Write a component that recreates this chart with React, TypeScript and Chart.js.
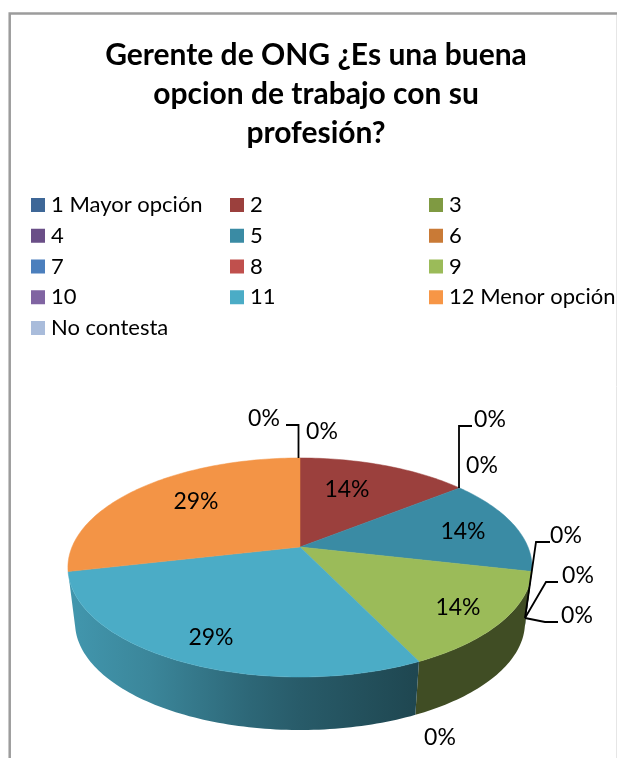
import React, { useEffect, useRef } from "react";
import { Chart, registerables } from "chart.js";

Chart.register(...registerables);

const titleLines = ["Gerente de ONG ¿Es una buena", "opcion de trabajo con su", "profesión?"];
const categories = ["1 Mayor opción", "2", "3", "4", "5", "6", "7", "8", "9", "10", "11", "12 Menor opción", "No contesta"];
const responses = [0, 1, 0, 0, 1, 0, 0, 0, 1, 0, 2, 2, 0];
const faceColors = ["#3E6797", "#9B403D", "#7F9A42", "#6A4E87", "#3A8BA4", "#C97A36", "#4B7FBD", "#C0504D", "#9BBB59", "#8064A2", "#4BACC6", "#F39446", "#A9BCDB"];

// Layout of the data labels, per category: label centre and optional leader line.
type LabelPlace = { at: [number, number]; leader?: [number, number][] };
const labelPlaces: LabelPlace[] = [
  { at: [322, 432] },
  { at: [347, 490] },
  { at: [482, 466] },
  { at: [490, 420], leader: [[459, 488], [459, 426], [472, 426]] },
  { at: [463, 532] },
  { at: [566, 536], leader: [[525, 618], [536, 542], [550, 542]] },
  { at: [578, 576], leader: [[525, 618], [546, 582], [558, 582]] },
  { at: [577, 616], leader: [[525, 618], [545, 622], [558, 622]] },
  { at: [458, 608] },
  { at: [440, 738] },
  { at: [211, 638] },
  { at: [196, 502] },
  { at: [264, 419], leader: [[298.5, 458], [298.5, 425], [286, 425]] },
];

// Perspective projection of the pie disc.
const CX = 300;
const TOP = { cy: 547, a: 228, b: 105.7 };
const BOTTOM = { cy: 602.6, a: 221, b: 103.6 };
const PERSPECTIVE = -0.187;
// Angular range (clockwise from 12 o'clock) in which the side wall faces the viewer.
const WALL_FROM = (101 * Math.PI) / 180;
const WALL_TO = (257.2 * Math.PI) / 180;
const project = (disc: typeof TOP, theta: number): [number, number] => {
  const u = Math.sin(theta);
  const v = -Math.cos(theta);
  const w = 1 + PERSPECTIVE * v;
  return [CX + (disc.a * u) / w, disc.cy + (disc.b * v) / w];
};
const rimPoints = (disc: typeof TOP, from: number, to: number) => {
  const n = Math.max(2, Math.ceil((to - from) / 0.02));
  const pts: [number, number][] = [];
  for (let i = 0; i <= n; i++) pts.push(project(disc, from + ((to - from) * i) / n));
  return pts;
};
const wallShade: [number, number][] = [[68, 0.88], [150, 0.78], [250, 0.6], [300, 0.53], [415, 0.41], [532, 0.41]];
const shadeColor = (hex: string, k: number) => {
  const n = parseInt(hex.slice(1), 16);
  return `rgb(${Math.round(((n >> 16) & 255) * k)},${Math.round(((n >> 8) & 255) * k)},${Math.round((n & 255) * k)})`;
};

const pie3d = {
  id: "pie3d",
  beforeDatasetsDraw(chart: any) {
    const ctx = chart.ctx as CanvasRenderingContext2D;
    const arcs = chart.getDatasetMeta(0).data as any[];
    const colors = chart.data.datasets[0].backgroundColor as string[];
    const slices = arcs
      .map((arc, i) => ({ i, from: arc.startAngle + Math.PI / 2, to: arc.endAngle + Math.PI / 2 }))
      .filter((s) => s.to - s.from > 1e-6);

    ctx.save();
    for (const s of slices) {
      const from = Math.max(s.from, WALL_FROM);
      const to = Math.min(s.to, WALL_TO);
      if (to <= from) continue;
      const top = rimPoints(TOP, from, to);
      const bot = rimPoints(BOTTOM, from, to).reverse();
      const grad = ctx.createLinearGradient(wallShade[0][0], 0, wallShade[wallShade.length - 1][0], 0);
      const span = wallShade[wallShade.length - 1][0] - wallShade[0][0];
      for (const [x, k] of wallShade) grad.addColorStop((x - wallShade[0][0]) / span, shadeColor(colors[s.i], k));
      ctx.beginPath();
      [...top, ...bot].forEach(([x, y], j) => (j ? ctx.lineTo(x, y) : ctx.moveTo(x, y)));
      ctx.closePath();
      ctx.fillStyle = grad;
      ctx.fill();
    }
    for (const s of slices) {
      ctx.beginPath();
      ctx.moveTo(CX, TOP.cy);
      rimPoints(TOP, s.from, s.to).forEach(([x, y]) => ctx.lineTo(x, y));
      ctx.closePath();
      ctx.fillStyle = colors[s.i];
      ctx.fill();
      ctx.strokeStyle = colors[s.i];
      ctx.lineWidth = 0.5;
      ctx.stroke();
    }
    ctx.restore();
    return false;
  },
  afterDraw(chart: any) {
    const ctx = chart.ctx as CanvasRenderingContext2D;
    const values = chart.data.datasets[0].data as number[];
    const colors = chart.data.datasets[0].backgroundColor as string[];
    const total = values.reduce((a, b) => a + b, 0);
    ctx.save();
    // frame
    ctx.strokeStyle = "#E6E6E6";
    ctx.lineWidth = 1;
    ctx.beginPath();
    ctx.moveTo(616.5, 15);
    ctx.lineTo(616.5, 758);
    ctx.stroke();
    ctx.strokeStyle = "#9C9C9C";
    ctx.lineWidth = 2.5;
    ctx.beginPath();
    ctx.moveTo(9.7, 758);
    ctx.lineTo(9.7, 13.5);
    ctx.lineTo(617, 13.5);
    ctx.stroke();
    // leaders
    ctx.strokeStyle = "#000";
    ctx.lineWidth = 1.8;
    labelPlaces.forEach((p) => {
      if (!p.leader) return;
      ctx.beginPath();
      p.leader.forEach(([x, y], j) => (j ? ctx.lineTo(x, y) : ctx.moveTo(x, y)));
      ctx.stroke();
    });
    // data labels
    ctx.fillStyle = "#000";
    ctx.font = "23px Lato";
    ctx.textAlign = "center";
    ctx.textBaseline = "middle";
    values.forEach((v, i) => {
      const [x, y] = labelPlaces[i].at;
      ctx.fillText(`${Math.round((v / total) * 100)}%`, x, y);
    });
    // legend
    const columns = [31, 230, 429];
    ctx.font = "22px Lato";
    ctx.textAlign = "left";
    (chart.data.labels as string[]).forEach((label, i) => {
      const x = columns[i % 3];
      const y = 205 + Math.floor(i / 3) * 30.75;
      ctx.fillStyle = colors[i] === "#F39446" ? "#F79646" : colors[i];
      ctx.fillRect(x, y - 7, 14, 14);
      ctx.fillStyle = "#000";
      ctx.fillText(label, x + 20, y, 617 - x - 21);
    });
    ctx.restore();
  },
};

export default function App() {
  const ref = useRef<HTMLCanvasElement>(null);
  useEffect(() => {
    document.body.style.margin = "0";
    const chart = new Chart(ref.current!, {
      type: "pie",
      data: {
        labels: categories,
        datasets: [{ data: responses, backgroundColor: faceColors, borderWidth: 0 }],
      },
      options: {
        responsive: false,
        animation: false,
        layout: { padding: { left: 15 } },
        plugins: {
          legend: { display: false },
          tooltip: { enabled: false },
          title: {
            display: true,
            text: titleLines,
            color: "#000",
            font: { family: "Lato", size: 30, weight: "bold", lineHeight: 1.3 },
            padding: { top: 36, bottom: 10 },
          },
        },
      },
      plugins: [pie3d],
    } as any);
    return () => chart.destroy();
  }, []);
  return <canvas ref={ref} width={617} height={758} style={{ display: "block" }} />;
}
